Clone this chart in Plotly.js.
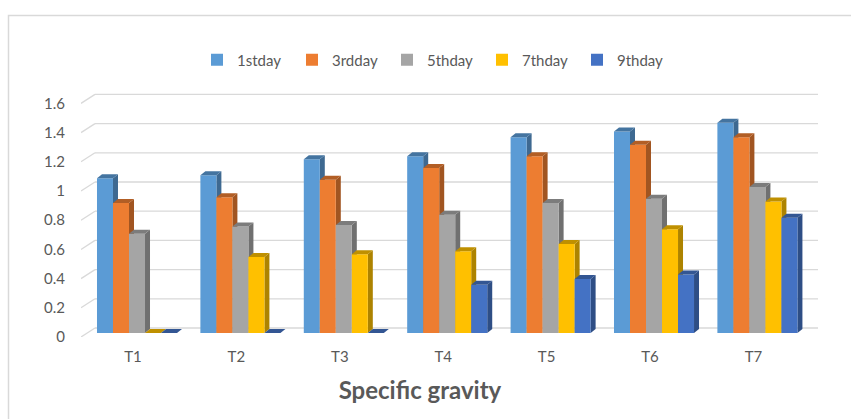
<!DOCTYPE html>
<html>
<head>
<meta charset="utf-8">
<script src="https://cdn.plot.ly/plotly-3.0.1.min.js"></script>
<style>html,body{margin:0;padding:0;background:#fff;}#chart{width:851px;height:419px;}</style>
</head>
<body>
<div id="chart"></div>
<script>
// ---- data ----
var categories = ["T1", "T2", "T3", "T4", "T5", "T6", "T7"];
var seriesNames = ["1stday", "3rdday", "5thday", "7thday", "9thday"];
var day1 = [1.06, 1.08, 1.19, 1.21, 1.34, 1.38, 1.44];
var day3 = [0.89, 0.93, 1.05, 1.13, 1.21, 1.29, 1.34];
var day5 = [0.68, 0.73, 0.74, 0.81, 0.89, 0.92, 1.00];
var day7 = [0.00, 0.52, 0.54, 0.56, 0.61, 0.71, 0.90];
var day9 = [0.00, 0.00, 0.00, 0.33, 0.37, 0.40, 0.79];
var yTickVals = [0, 0.2, 0.4, 0.6, 0.8, 1, 1.2, 1.4, 1.6];
var yTickText = ["0", "0.2", "0.4", "0.6", "0.8", "1", "1.2", "1.4", "1.6"];

var seriesValues = [day1, day3, day5, day7, day9];
var colors = ["#5B9BD5", "#ED7D31", "#A5A5A5", "#FFC000", "#4472C4"];

// ---- layout geometry ----
var W = 851, H = 419;
var M = {l: 81, r: 33, t: 88, b: 82};
var plotW = W - M.l - M.r, plotH = H - M.t - M.b;
var xRange = [-0.5416, 6.586];
var yRange = [-0.0274, 1.678];
var pxX = plotW / (xRange[1] - xRange[0]);
var pxY = plotH / (yRange[1] - yRange[0]);
var bargap = 0.226;
var nS = seriesNames.length;
var groupW = 1 - bargap, bw = groupW / nS;
var dX = 5 / pxX, dY = 4 / pxY;          // bar depth
var backDX = 14 / pxX, backDY = 5 / pxY;  // wall depth
var frontDY = -4 / pxY;

function shade(hex, f) {
  var n = parseInt(hex.slice(1), 16);
  var r = Math.round(((n >> 16) & 255) * f), g = Math.round(((n >> 8) & 255) * f), b = Math.round((n & 255) * f);
  return "rgb(" + r + "," + g + "," + b + ")";
}

var xIdx = categories.map(function (c, i) { return i; });

var traces = seriesNames.map(function (name, k) {
  return {
    type: "bar", name: name, x: xIdx, y: seriesValues[k],
    marker: {color: colors[k], line: {width: 0}},
    hoverinfo: "x+y"
  };
});

var shapes = [];
// chart border
shapes.push({type: "rect", xref: "paper", yref: "paper",
  x0: (8.5 - M.l) / plotW, x1: (860 - M.l) / plotW,
  y0: (H - M.b - 430) / plotH, y1: (H - M.b - 15.5) / plotH,
  line: {color: "#D9D9D9", width: 1.5}, fillcolor: "rgba(0,0,0,0)", layer: "below"});
// 3D gridlines (back wall + left diagonal)
yTickVals.forEach(function (t) {
  shapes.push({type: "line", xref: "x", yref: "y", layer: "between",
    x0: xRange[0] + backDX, x1: xRange[1], y0: t + backDY, y1: t + backDY,
    line: {color: "#D9D9D9", width: 1.3}});
  shapes.push({type: "line", xref: "x", yref: "y", layer: "between",
    x0: xRange[0], x1: xRange[0] + backDX, y0: t + frontDY, y1: t + backDY,
    line: {color: "#D9D9D9", width: 1.3}});
});
// side faces (between) and top faces (above)
var tops = [];
categories.forEach(function (c, j) {
  seriesValues.forEach(function (vals, k) {
    var v = vals[j];
    var xl = j - groupW / 2 + k * bw, xr = xl + bw;
    shapes.push({type: "path", xref: "x", yref: "y", layer: "between",
      path: "M" + xr + "," + 0 + " L" + xr + "," + v + " L" + (xr + dX) + "," + (v + dY) + " L" + (xr + dX) + "," + dY + " Z",
      fillcolor: shade(colors[k], 0.68), line: {width: 0}});
    tops.push({type: "path", xref: "x", yref: "y", layer: "above",
      path: "M" + xl + "," + v + " L" + xr + "," + v + " L" + (xr + dX) + "," + (v + dY) + " L" + (xl + dX) + "," + (v + dY) + " Z",
      fillcolor: shade(colors[k], 0.75), line: {width: 0}});
  });
});
shapes = shapes.concat(tops);

var fontFam = "Lato, 'Open Sans', sans-serif";
var layout = {
  width: W, height: H,
  margin: M,
  paper_bgcolor: "#fff", plot_bgcolor: "rgba(0,0,0,0)",
  barmode: "group", bargap: bargap, bargroupgap: 0,
  font: {family: fontFam, color: "#595959", size: 15},
  title: {text: "<b>Specific gravity</b>", font: {family: fontFam, size: 24, color: "#595959"},
    xref: "container", yref: "container", x: 0.4935, y: 1 - 391 / H, xanchor: "center", yanchor: "middle"},
  xaxis: {range: xRange, tickvals: xIdx, ticktext: categories, showgrid: false, zeroline: false,
    showline: false, ticks: "", ticklabelstandoff: 9, ticklabelshift: -4, fixedrange: true,
    tickfont: {size: 15, color: "#595959"}},
  yaxis: {range: yRange, tickvals: yTickVals, ticktext: yTickText, showgrid: false, zeroline: false,
    showline: false, ticks: "", ticklabelstandoff: 15, ticklabelshift: 4, fixedrange: true,
    tickfont: {size: 15, color: "#595959"}},
  legend: {orientation: "h", x: (197 - M.l) / plotW, xanchor: "left", y: (H - M.b - 60) / plotH, yanchor: "middle",
    entrywidth: 50, entrywidthmode: "pixels", itemwidth: 30, font: {size: 15, color: "#595959"},
    bgcolor: "rgba(0,0,0,0)"},
  shapes: shapes,
  showlegend: true
};

Plotly.newPlot("chart", traces, layout, {displayModeBar: false, staticPlot: true});
</script>
</body>
</html>
